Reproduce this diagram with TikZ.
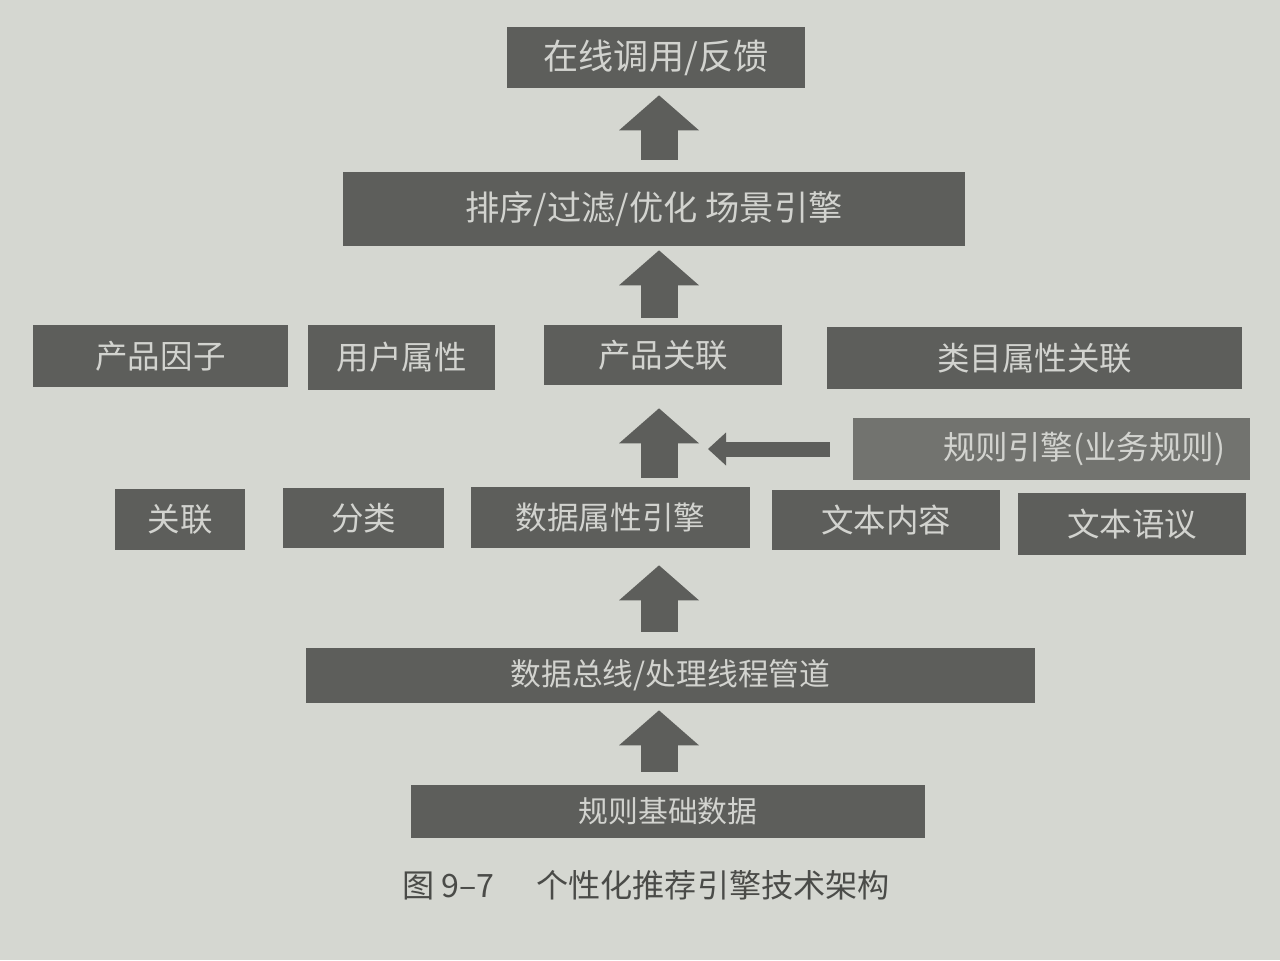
\documentclass[tikz,border=0pt]{standalone}
\usepackage{fontspec}
\newfontfamily\cjk{Noto Sans CJK SC}
\usetikzlibrary{arrows.meta}

\definecolor{paper}{HTML}{D5D7D1}
\definecolor{boxgray}{HTML}{5D5E5B}
\definecolor{rulegray}{HTML}{72736F}
\definecolor{boxtext}{HTML}{D2D3CF}
\definecolor{capgray}{HTML}{4A4B48}

\begin{document}
\begin{tikzpicture}[x=0.02cm,y=-0.02cm,
  box/.style={fill=boxgray,text=boxtext,inner sep=0pt,font=\cjk\fontsize{#1}{#1}\selectfont},
  box/.default=18.5pt,
  uparrow/.style={draw=boxgray,line width=0.74cm,-{Triangle[width=1.6cm,length=0.7cm,line width=0pt]}},
  sidearrow/.style={draw=boxgray,line width=0.3cm,-{Triangle[width=0.66cm,length=0.36cm,line width=0pt]}}]

  % Paper and fixed page size.
  \fill[paper] (0,0) rectangle (1280,960);
  \useasboundingbox (0,0) rectangle (1280,960);

  % Top layer.
  \node[box=20pt,minimum width=5.96cm,minimum height=1.22cm] (online) at (656,57.5) {在线调用/反馈};
  \node[box=19.5pt,minimum width=12.44cm,minimum height=1.48cm] (sort) at (654,209) {排序/过滤/优化\ 场景引擎};

  % Factor and association row.
  \node[box,minimum width=5.10cm,minimum height=1.24cm] (pfactor) at (160.5,356) {产品因子};
  \node[box,minimum width=3.74cm,minimum height=1.30cm] (uattr) at (401.5,357.5) {用户属性};
  \node[box,minimum width=4.76cm,minimum height=1.20cm] (passoc) at (663,355) {产品关联};
  \node[box,minimum width=8.30cm,minimum height=1.24cm] (cattr) at (1034.5,358) {类目属性关联};

  % Business rule engine, lighter box, text pushed right.
  \node[box,fill=rulegray,minimum width=7.94cm,minimum height=1.24cm] (rule) at (1051.5,449) {\hspace{2em}规则引擎(业务规则)};

  % Engine row.
  \node[box,minimum width=2.60cm,minimum height=1.22cm] (assoc) at (180,519.5) {关联};
  \node[box,minimum width=3.22cm,minimum height=1.20cm] (cls) at (363.5,518) {分类};
  \node[box=18pt,minimum width=5.58cm,minimum height=1.22cm] (dattr) at (610.5,517.5) {数据属性引擎};
  \node[box,minimum width=4.56cm,minimum height=1.20cm] (tcont) at (886,520) {文本内容};
  \node[box,minimum width=4.56cm,minimum height=1.24cm] (tsem) at (1132,524) {文本语议};

  % Bus and base data.
  \node[box=17.5pt,minimum width=14.58cm,minimum height=1.10cm] (bus) at (670.5,675.5) {数据总线/处理线程管道};
  \node[box=17pt,minimum width=10.28cm,minimum height=1.06cm] (base) at (668,811.5) {规则基础数据};

  % Block arrows, all on one vertical axis.
  \coordinate (axis) at (659,0);
  \draw[uparrow,shorten <=0.24cm,shorten >=0.14cm] (sort.north -| axis) -- (online.south -| axis);
  \draw[uparrow,shorten <=0.14cm,shorten >=0.08cm] (passoc.north -| axis) -- (sort.south -| axis);
  \draw[uparrow,shorten <=0.18cm,shorten >=0.46cm] (dattr.north -| axis) -- (passoc.south -| axis);
  \draw[uparrow,shorten <=0.32cm,shorten >=0.34cm] (bus.north -| axis) -- (dattr.south -| axis);
  \draw[uparrow,shorten <=0.26cm,shorten >=0.14cm] (base.north -| axis) -- (bus.south -| axis);

  % Rule engine feeds in from the right.
  \coordinate (ruletip) at (708,449);
  \draw[sidearrow,shorten <=0.46cm] (rule.west) -- (ruletip);

  % Caption.
  \node[anchor=west,text=capgray,font=\cjk\fontsize{18.3pt}{18.3pt}\selectfont] (caption) at (396,885) {图 9–7\hspace{1.3em}个性化推荐引擎技术架构};
\end{tikzpicture}
\end{document}
